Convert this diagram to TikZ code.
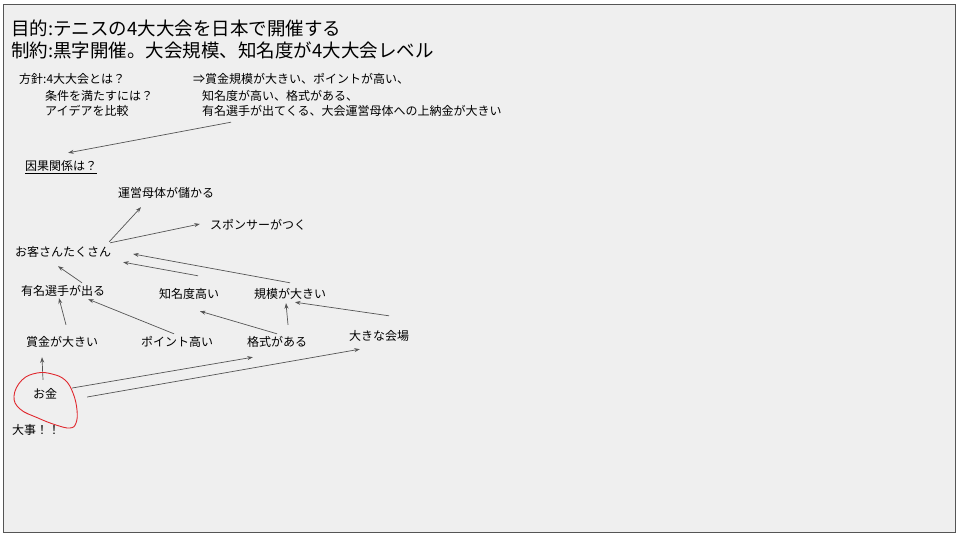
\documentclass[tikz,border=0pt]{standalone}
\usepackage{fontspec}
\usetikzlibrary{arrows.meta}
\setmainfont{Noto Sans CJK JP}
\definecolor{pagebg}{HTML}{EFEFEF}
\definecolor{linegray}{HTML}{555555}
\definecolor{penred}{HTML}{E0282E}
\tikzset{
  lbl/.style={inner sep=1pt, text height=10pt, text depth=0pt, font=\fontsize{12}{14}\selectfont},
  head/.style={anchor=west, inner sep=0pt, font=\fontsize{18.5}{22}\selectfont},
  note/.style={lbl, anchor=west, inner sep=0pt},
  cause/.style={draw=linegray, line width=0.7pt, -{Stealth[length=5.5pt,width=4pt]}}
}
\begin{document}
\begin{tikzpicture}[x=1pt,y=-1pt]
    \useasboundingbox (0,0) rectangle (960,540);
    \draw[linegray, fill=pagebg, line width=1pt] (3.5,4.5) rectangle (955.5,532.5);
    \node[head] (goal) at (11,28) {目的:テニスの4大大会を日本で開催する};
    \node[head] (limit) at (11,50) {制約:黒字開催。大会規模、知名度が4大大会レベル};
    \node[note] (plan1) at (19,79) {方針:4大大会とは？};
    \node[note] (plan2) at (45,96) {条件を満たすには？};
    \node[note] (plan3) at (45,111) {アイデアを比較};
    \node[note] (ans1) at (193,79) {⇒賞金規模が大きい、ポイントが高い、};
    \node[note] (ans2) at (202,96) {知名度が高い、格式がある、};
    \node[note] (ans3) at (202,111) {有名選手が出てくる、大会運営母体への上納金が大きい};
    \node[note] (inga) at (25,166) {\underline{因果関係は？}};
    \node[lbl] (unei) at (166,192) {運営母体が儲かる};
    \node[lbl] (sponsor) at (258,224) {スポンサーがつく};
    \node[lbl] (kyaku) at (63,251) {お客さんたくさん};
    \node[lbl] (yumei) at (63,290) {有名選手が出る};
    \node[lbl] (chimei) at (189,293) {知名度高い};
    \node[lbl] (kibo) at (290,293) {規模が大きい};
    \node[lbl] (shokin) at (62,341) {賞金が大きい};
    \node[lbl] (point) at (177,341) {ポイント高い};
    \node[lbl] (kakushiki) at (277,341) {格式がある};
    \node[lbl] (kaijo) at (379,335) {大きな会場};
    \node[lbl] (okane) at (45,393) {お金};
    \node[note] (daiji) at (12,429) {大事！！};
    \draw[cause] ([xshift=29pt,yshift=-6pt]ans3.south west) -- ([xshift=7pt,yshift=8pt]inga.north);
    \draw[cause] ([xshift=-3pt,yshift=3pt]kyaku.north east) -- ([xshift=-25pt,yshift=-9pt]unei.south);
    \draw[cause] ([xshift=-2pt,yshift=2pt]kyaku.north east) -- ([xshift=-9pt]sponsor.west);
    \draw[cause] ([xshift=19pt,yshift=1pt]yumei.north) -- ([xshift=-5pt,yshift=-9pt]kyaku.south);
    \draw[cause] ([xshift=9pt,yshift=11pt]chimei.north) -- ([xshift=11pt,yshift=-5pt]kyaku.south east);
    \draw[cause] ([yshift=4pt]kibo.north) -- ([xshift=21pt,yshift=-3pt]kyaku.east);
    \draw[cause] ([xshift=4pt,yshift=10pt]shokin.north) -- ([xshift=-4pt,yshift=-2pt]yumei.south);
    \draw[cause] ([xshift=-3pt,yshift=1pt]point.north) -- ([xshift=-18pt,yshift=-3pt]yumei.south east);
    \draw[cause] ([yshift=1pt]kakushiki.north) -- ([xshift=11pt,yshift=-12pt]chimei.south);
    \draw[cause] ([xshift=11pt,yshift=10pt]kakushiki.north) -- ([xshift=-4pt,yshift=-4pt]kibo.south);
    \draw[cause] ([xshift=10pt,yshift=13pt]kaijo.north) -- ([xshift=5pt,yshift=-3pt]kibo.south);
    \draw[cause] ([xshift=-2pt,yshift=7pt]okane.north) -- ([xshift=-20pt,yshift=-10pt]shokin.south);
    \draw[cause] ([xshift=14pt,yshift=5pt]okane.east) -- ([xshift=7pt,yshift=-10pt]kakushiki.south west);
    \draw[cause] ([xshift=29pt,yshift=-4pt]okane.east) -- ([xshift=12pt,yshift=-8pt]kaijo.south west);
    \draw[penred, line width=0.9pt] plot[smooth cycle, tension=0.7] coordinates {(14,396) (22,380) (37,373) (52,374) (65,380) (73,393) (77,410) (76,423) (70,428) (56,425) (38,418) (20,409)};
\end{tikzpicture}
\end{document}
